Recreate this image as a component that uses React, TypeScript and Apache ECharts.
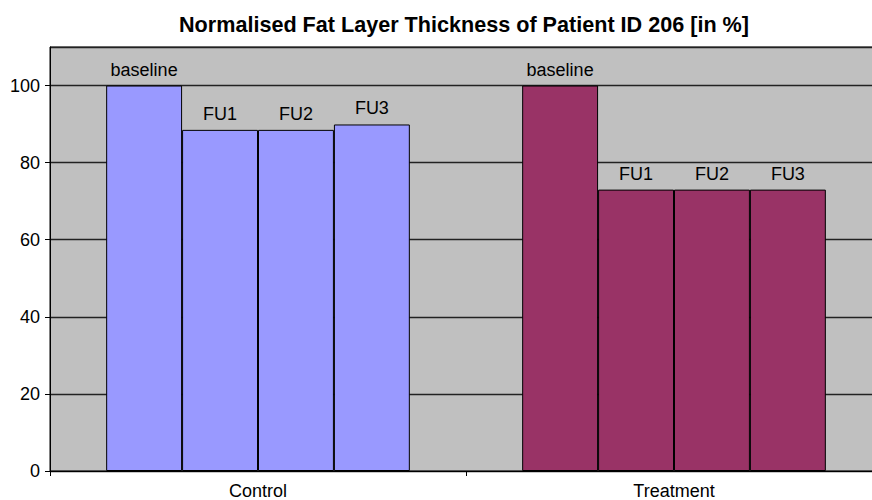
import React, { useEffect, useRef } from "react";
import * as echarts from "echarts";

const groups = ["Control", "Treatment"];
const seriesNames = ["baseline", "FU1", "FU2", "FU3"];
const controlValues = [100, 88.5, 88.5, 89.9];
const treatmentValues = [100, 73.0, 73.0, 73.0];
const groupColors = ["#9999FF", "#993366"];
const yTicks = { min: 0, max: 110, interval: 20 };

export default function App() {
  const ref = useRef<HTMLDivElement>(null);
  useEffect(() => {
    if (!ref.current) return;
    const chart = echarts.init(ref.current, null, { renderer: "svg" });
    const font = "'Liberation Sans', Arial, sans-serif";
    chart.setOption({
      animation: false,
      backgroundColor: "#FFFFFF",
      title: {
        text: "Normalised Fat Layer Thickness of Patient ID 206 [in %]",
        left: 459,
        top: 8,
        textAlign: "center",
        textStyle: { fontFamily: font, fontWeight: "bold", fontSize: 21.6, color: "#000" },
      },
      grid: {
        left: 50,
        right: 2,
        top: 47,
        bottom: 28,
        show: true,
        backgroundColor: "#C0C0C0",
        borderColor: "#000",
        borderWidth: 1,
      },
      xAxis: {
        type: "category",
        data: groups,
        axisLine: { lineStyle: { color: "#000", width: 1 } },
        axisTick: { show: true, length: 5, lineStyle: { color: "#000" } },
        axisLabel: { fontFamily: font, fontSize: 18, color: "#000", margin: 11 },
      },
      yAxis: {
        type: "value",
        min: yTicks.min,
        max: yTicks.max,
        interval: yTicks.interval,
        axisLine: { show: true, lineStyle: { color: "#000", width: 1 } },
        axisTick: { show: true, length: 5, lineStyle: { color: "#000" } },
        axisLabel: {
          fontFamily: font,
          fontSize: 18,
          color: "#000",
          margin: 10,
          showMaxLabel: false,
          formatter: (v: number) => (v > 100 ? "" : String(v)),
        },
        splitLine: { show: true, lineStyle: { color: "#222", width: 1.3 } },
      },
      series: seriesNames.map((name, i) => ({
        name,
        type: "bar",
        barGap: "0%",
        barCategoryGap: "27%",
        data: [controlValues[i], treatmentValues[i]],
        itemStyle: {
          color: (p: any) => groupColors[p.dataIndex],
          borderColor: "#000",
          borderWidth: 1,
        },
        label: {
          show: true,
          position: "top",
          distance: 7,
          formatter: "{a}",
          fontFamily: font,
          fontSize: 18,
          color: "#000",
        },
      })),
    });
    return () => chart.dispose();
  }, []);
  return (
    <div style={{ position: "fixed", left: 0, top: 0, width: 872, height: 500, overflow: "hidden" }}>
      <div ref={ref} style={{ position: "absolute", left: 0, top: 0, width: 884, height: 500 }} />
    </div>
  );
}
